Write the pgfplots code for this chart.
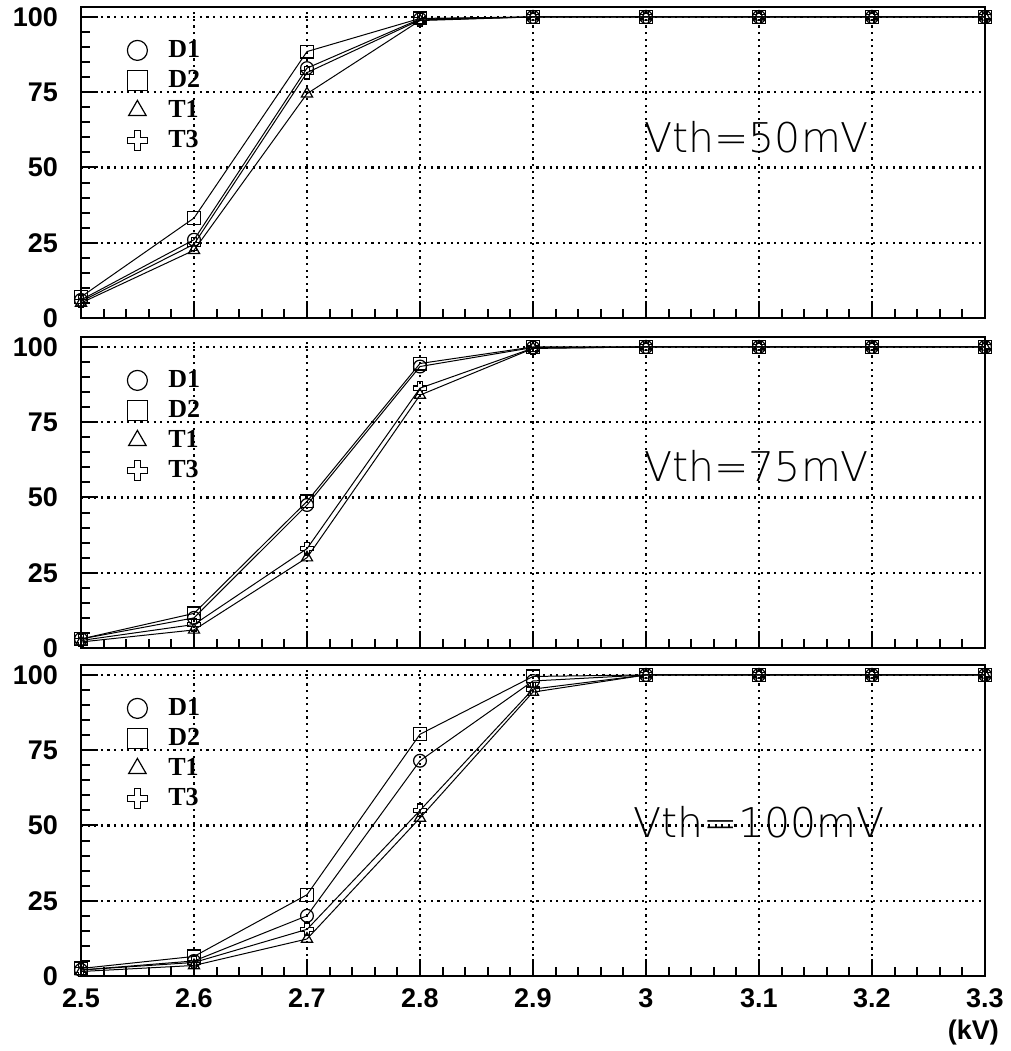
\documentclass[border=0pt]{standalone}
\usepackage{fontspec}
\setmainfont{Liberation Sans}
\newfontfamily\lserif{Liberation Serif}
\newfontfamily\thinfont{DejaVu Sans ExtraLight}
\usepackage{pgfplots}
\usepackage{pgfplotstable}
\pgfplotsset{compat=1.18}

% open cross marker (outline of a plus)
\pgfdeclareplotmark{ocross}{%
  \pgfpathmoveto{\pgfqpoint{-0.33\pgfplotmarksize}{\pgfplotmarksize}}%
  \pgfpathlineto{\pgfqpoint{0.33\pgfplotmarksize}{\pgfplotmarksize}}%
  \pgfpathlineto{\pgfqpoint{0.33\pgfplotmarksize}{0.33\pgfplotmarksize}}%
  \pgfpathlineto{\pgfqpoint{\pgfplotmarksize}{0.33\pgfplotmarksize}}%
  \pgfpathlineto{\pgfqpoint{\pgfplotmarksize}{-0.33\pgfplotmarksize}}%
  \pgfpathlineto{\pgfqpoint{0.33\pgfplotmarksize}{-0.33\pgfplotmarksize}}%
  \pgfpathlineto{\pgfqpoint{0.33\pgfplotmarksize}{-\pgfplotmarksize}}%
  \pgfpathlineto{\pgfqpoint{-0.33\pgfplotmarksize}{-\pgfplotmarksize}}%
  \pgfpathlineto{\pgfqpoint{-0.33\pgfplotmarksize}{-0.33\pgfplotmarksize}}%
  \pgfpathlineto{\pgfqpoint{-\pgfplotmarksize}{-0.33\pgfplotmarksize}}%
  \pgfpathlineto{\pgfqpoint{-\pgfplotmarksize}{0.33\pgfplotmarksize}}%
  \pgfpathlineto{\pgfqpoint{-0.33\pgfplotmarksize}{0.33\pgfplotmarksize}}%
  \pgfpathclose\pgfusepathqstroke}

\pgfplotstableread{
x   d1    d2    t1    t3
2.5 6     7     5     5.5
2.6 26    33.2  22.5  24.5
2.7 83    88.5  74.5  81.5
2.8 99.3  99.5  98.8  99
2.9 100   100   100   100
3.0 100   100   100   100
3.1 100   100   100   100
3.2 100   100   100   100
3.3 100   100   100   100
}\vthA
\pgfplotstableread{
x   d1    d2    t1    t3
2.5 3     3     2     2.5
2.6 10    11.5  6     7.8
2.7 47.5  48.7  30    33
2.8 93.5  94.5  84    86.3
2.9 99.8  100   99.5  99.6
3.0 100   100   100   100
3.1 100   100   100   100
3.2 100   100   100   100
3.3 100   100   100   100
}\vthB
\pgfplotstableread{
x   d1    d2    t1    t3
2.5 2     2.5   1.5   2
2.6 5     6.5   3.5   4.5
2.7 20    27    12.3  15.5
2.8 71.5  80.3  52.5  55
2.9 98    99.5  94.3  95.3
3.0 100   100   100   100
3.1 100   100   100   100
3.2 100   100   100   100
3.3 100   100   100   100
}\vthC

\pgfplotsset{
  panel/.style={
    scale only axis, width=452pt, height=155.5pt,
    xmin=2.5, xmax=3.3, ymin=0, ymax=103.3,
    xtick={2.5,2.6,2.7,2.8,2.9,3.0,3.1,3.2,3.3},
    ytick={0,25,50,75,100},
    minor x tick num=4, minor y tick num=4,
    tick pos=left, tick align=inside,
    major tick length=8.5pt, minor tick length=4.5pt,
    every tick/.style={black, line width=1pt},
    axis line style={line width=1.3pt},
    grid=major,
    major grid style={black, line width=1.1pt, dash pattern=on 1.1pt off 2.2pt},
    clip=false,
    every axis plot/.append style={black, line width=0.5pt, mark size=3.2pt,
      mark options={solid, line width=0.6pt, fill=none}},
    tick label style={font=\bfseries\fontsize{13.5}{15}\selectfont},
    /pgf/number format/assume math mode=true,
    yticklabel style={xshift=-8pt},
    xticklabel style={yshift=-3pt},
    legend image code/.code={\draw[##1, mark size=5pt] plot[only marks] coordinates {(0pt,0pt)};},
    legend style={draw=none, fill=none, at={(axis cs:2.5354,94)}, anchor=north west,
      font=\lserif\bfseries\fontsize{13}{15}\selectfont, row sep=4pt,
      nodes={inner sep=0pt, text height=9pt, text depth=2pt},
      /tikz/every odd column/.append style={column sep=10.5pt}},
    legend cell align=left,
  }
}

\begin{document}
\begin{tikzpicture}
\path[use as bounding box] (0,0) rectangle (505.5pt,-525.5pt);

\begin{axis}[panel, at={(40.5pt,-3.5pt)}, anchor=north west, xticklabels={}]
\addplot[mark=o] table[x=x,y=d1] {\vthA};
\addplot[mark=square] table[x=x,y=d2] {\vthA};
\addplot[mark=triangle] table[x=x,y=t1] {\vthA};
\addplot[mark=ocross] table[x=x,y=t3] {\vthA};
\legend{D1,D2,T1,T3}
\node[font=\thinfont\fontsize{20.5}{22}\selectfont] at (axis cs:3.098,60) {Vth=50mV};
\end{axis}

\begin{axis}[panel, at={(40.5pt,-168.5pt)}, anchor=north west, xticklabels={}]
\addplot[mark=o] table[x=x,y=d1] {\vthB};
\addplot[mark=square] table[x=x,y=d2] {\vthB};
\addplot[mark=triangle] table[x=x,y=t1] {\vthB};
\addplot[mark=ocross] table[x=x,y=t3] {\vthB};
\legend{D1,D2,T1,T3}
\node[font=\thinfont\fontsize{20.5}{22}\selectfont] at (axis cs:3.098,60.5) {Vth=75mV};
\end{axis}

\begin{axis}[panel, at={(40.5pt,-332.5pt)}, anchor=north west,
  xticklabels={2.5,2.6,2.7,2.8,2.9,3,3.1,3.2,3.3}]
\addplot[mark=o] table[x=x,y=d1] {\vthC};
\addplot[mark=square] table[x=x,y=d2] {\vthC};
\addplot[mark=triangle] table[x=x,y=t1] {\vthC};
\addplot[mark=ocross] table[x=x,y=t3] {\vthC};
\legend{D1,D2,T1,T3}
\node[font=\thinfont\fontsize{20.5}{22}\selectfont] at (axis cs:3.1,51) {Vth=100mV};
\end{axis}

\node[anchor=east, font=\bfseries\fontsize{13.5}{15}\selectfont] at (503pt,-516.5pt) {(kV)};
\end{tikzpicture}
\end{document}
